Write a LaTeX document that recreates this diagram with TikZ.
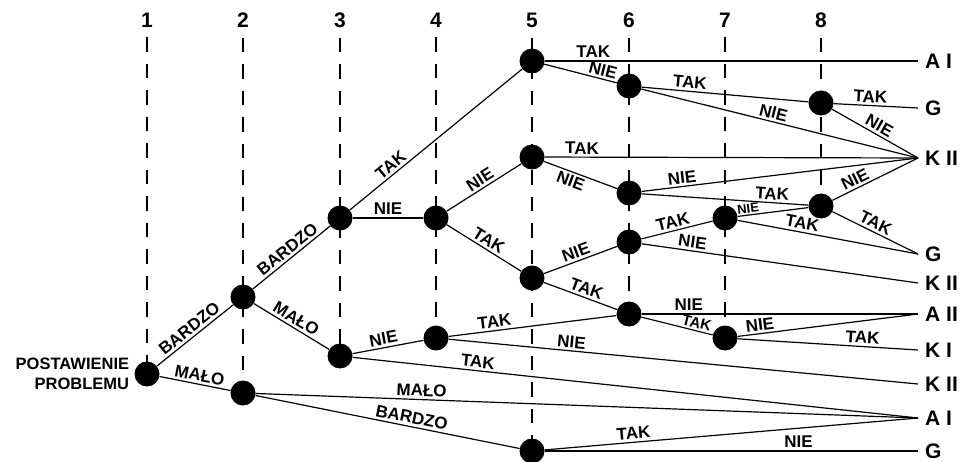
\documentclass[tikz,border=0pt]{standalone}
\usepackage{fontspec}
\setmainfont{Liberation Sans}
\usetikzlibrary{positioning}

\tikzset{
  bnode/.style={circle, fill, inner sep=0pt, minimum size=25pt},
  guide/.style={line width=2pt, dash pattern=on 14.5pt off 12pt, shorten <=10pt},
  branch/.style={line width=1.2pt},
  lbl/.style={above, sloped, inner sep=2.5pt, font=\bfseries\fontsize{17}{20}\selectfont},
  lblb/.style={lbl, below},
  smalllbl/.style={lbl, inner sep=1.5pt, font=\bfseries\fontsize{13}{15}\selectfont},
  midlbl/.style={lbl, inner sep=2pt, font=\bfseries\fontsize{15}{18}\selectfont},
  colnum/.style={inner sep=0pt, font=\bfseries\fontsize{21}{25}\selectfont},
  endlbl/.style={inner sep=0pt, font=\bfseries\fontsize{21}{25}\selectfont}
}

\begin{document}
\begin{tikzpicture}[x=1pt, y=-1pt]
  \useasboundingbox (0,0) rectangle (961,462);

  \node[bnode] (n1)  at (147,374) {};
  \node[bnode] (n2a) at (243,297) {};
  \node[bnode] (n2b) at (243,393) {};
  \node[bnode] (n3a) at (340,218) {};
  \node[bnode] (n3b) at (340,356) {};
  \node[bnode] (n4a) at (436,218) {};
  \node[bnode] (n4b) at (436,338) {};
  \node[bnode] (n5a) at (532,61) {};
  \node[bnode] (n5b) at (532,157) {};
  \node[bnode] (n5c) at (532,278) {};
  \node[bnode] (n5d) at (532,451) {};
  \node[bnode] (n6a) at (629,86) {};
  \node[bnode] (n6b) at (629,193) {};
  \node[bnode] (n6c) at (629,242) {};
  \node[bnode] (n6d) at (629,314) {};
  \node[bnode] (n7a) at (725,218) {};
  \node[bnode] (n7b) at (725,338) {};
  \node[bnode] (n8a) at (821,103) {};
  \node[bnode] (n8b) at (821,206) {};

  \node[align=right, inner sep=0pt, left=5pt of n1, font=\bfseries\fontsize{16.5}{20}\selectfont] (start) {POSTAWIENIE\\PROBLEMU};

  \node[colnum] (c1) at (147,20) {1};
  \node[colnum] (c2) at (243,20) {2};
  \node[colnum] (c3) at (340,20) {3};
  \node[colnum] (c4) at (436,20) {4};
  \node[colnum] (c5) at (532,20) {5};
  \node[colnum] (c6) at (629,20) {6};
  \node[colnum] (c7) at (725,20) {7};
  \node[colnum] (c8) at (821,20) {8};

  \draw[guide] (c1.south) -- (n1.center);
  \draw[guide] (c2.south) -- (n2b.center);
  \draw[guide] (c3.south) -- (n3b.center);
  \draw[guide] (c4.south) -- (n4b.center);
  \draw[guide] (c5.south) -- (n5d.center);
  \draw[guide] (c6.south) -- (n6d.center);
  \draw[guide] (c7.south) -- (n7b.center);
  \draw[guide] (c8.south) -- (n8b.center);

  \coordinate (eAI1) at (918,61);
  \coordinate (eG1)  at (918,108);
  \coordinate (eKII1) at (918,158);
  \coordinate (eG2)  at (918,254);
  \coordinate (eKII2) at (918,283);
  \coordinate (eAII) at (918,314);
  \coordinate (eKI)  at (918,350);
  \coordinate (eKII3) at (918,384);
  \coordinate (eAI2) at (918,418);
  \coordinate (eG3)  at (918,451);

  \node[endlbl, right=7pt of eAI1] (tAI1) {A I};
  \node[endlbl, right=7pt of eG1] (tG1) {G};
  \node[endlbl, right=7pt of eKII1] (tKII1) {K II};
  \node[endlbl, right=7pt of eG2] (tG2) {G};
  \node[endlbl, right=7pt of eKII2] (tKII2) {K II};
  \node[endlbl, right=7pt of eAII] (tAII) {A II};
  \node[endlbl, right=7pt of eKI] (tKI) {K I};
  \node[endlbl, right=7pt of eKII3] (tKII3) {K II};
  \node[endlbl, right=7pt of eAI2] (tAI2) {A I};
  \node[endlbl, right=7pt of eG3] (tG3) {G};

  \draw[branch] (n1) -- node[lbl, pos=.5] {BARDZO} (n2a);
  \draw[branch] (n1) -- node[lbl, pos=.54] {MAŁO} (n2b);
  \draw[branch] (n2a) -- node[lbl, pos=.52] {BARDZO} (n3a);
  \draw[branch] (n2a) -- node[lbl, pos=.5] {MAŁO} (n3b);
  \draw[branch] (n2b) -- node[lbl, pos=.25] {MAŁO} (eAI2);
  \draw[branch] (n2b) -- node[lbl, pos=.585] {BARDZO} (n5d);
  \draw[branch] (n3a) -- node[lbl, pos=.27] {TAK} (n5a);
  \draw[branch] (n3a) -- node[lbl, pos=.5] {NIE} (n4a);
  \draw[branch] (n3b) -- node[lbl, pos=.46] {NIE} (n4b);
  \draw[branch] (n3b) -- node[lbl, pos=.22] {TAK} (eAI2);
  \draw[branch] (n4a) -- node[lbl, pos=.51] {NIE} (n5b);
  \draw[branch] (n4a) -- node[lbl, pos=.5] {TAK} (n5c);
  \draw[branch] (n4b) -- node[lbl, pos=.28] {TAK} (n6d);
  \draw[branch] (n4b) -- node[lbl, pos=.26] {NIE} (eKII3);
  \draw[branch] (n5a) -- node[lbl, pos=.13] {TAK} (eAI1);
  \draw[branch] (n5a) -- node[lbl, pos=.78] {NIE} (n6a);
  \draw[branch] (n6a) -- node[lbl, pos=.285] {TAK} (n8a);
  \draw[branch] (n6a) -- node[lbl, pos=.47] {NIE} (eKII1);
  \draw[branch] (n8a) -- node[lbl, pos=.43] {TAK} (eG1);
  \draw[branch] (n8a) -- node[lbl, pos=.5] {NIE} (eKII1);
  \draw[branch] (n5b) -- node[lbl, pos=.1] {TAK} (eKII1);
  \draw[branch] (n5b) -- node[lblb, pos=.41] {NIE} (n6b);
  \draw[branch] (n6b) -- node[lbl, pos=.15] {NIE} (eKII1);
  \draw[branch] (n6b) -- node[lbl, pos=.78] {TAK} (n8b);
  \draw[branch] (n8b) -- node[lbl, pos=.31] {NIE} (eKII1);
  \draw[branch] (n8b) -- node[lbl, pos=.46] {TAK} (eG2);
  \draw[branch] (n7a) -- node[smalllbl, pos=.16] {NIE} (n8b);
  \draw[branch] (n7a) -- node[lbl, pos=.35] {TAK} (eG2);
  \draw[branch] (n6c) -- node[lbl, pos=.47] {TAK} (n7a);
  \draw[branch] (n6c) -- node[lbl, pos=.18] {NIE} (eKII2);
  \draw[branch] (n5c) -- node[lbl, pos=.48] {NIE} (n6c);
  \draw[branch] (n5c) -- node[lbl, pos=.54] {TAK} (n6d);
  \draw[branch] (n6d) -- node[lbl, pos=.17] {NIE} (eAII);
  \draw[branch] (n6d) -- node[midlbl, pos=.75] {TAK} (n7b);
  \draw[branch] (n7b) -- node[lbl, pos=.13] {NIE} (eAII);
  \draw[branch] (n7b) -- node[lbl, pos=.69] {TAK} (eKI);
  \draw[branch] (n5d) -- node[lbl, pos=.24] {TAK} (eAI2);
  \draw[branch] (n5d) -- node[lbl, pos=.68] {NIE} (eG3);
\end{tikzpicture}
\end{document}
